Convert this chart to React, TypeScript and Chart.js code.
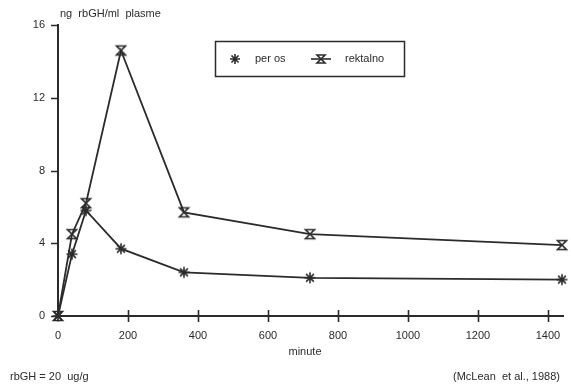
import React, { useEffect, useRef } from "react";
import { Chart, registerables } from "chart.js";
Chart.register(...registerables);

const times = [0, 40, 80, 180, 360, 720, 1440];
const perOs = [0, 3.4, 5.8, 3.7, 2.4, 2.1, 2.0];
const rektalno = [0, 4.5, 6.2, 14.6, 5.7, 4.5, 3.9];
const xTicks = [0, 200, 400, 600, 800, 1000, 1200, 1400];
const yTicks = [0, 4, 8, 12, 16];
const seriesNames = ["per os", "rektalno"];
const yTitle = "ng  rbGH/ml  plasme";
const xTitle = "minute";
const noteLeft = "rbGH = 20  ug/g";
const noteRight = "(McLean  et al., 1988)";

const INK = "#2b2b2b";
const FAMILY = "'Liberation Sans', Arial, sans-serif";
const FONT = "11px " + FAMILY;

function drawStar(ctx: CanvasRenderingContext2D, cx: number, cy: number, r: number) {
  ctx.beginPath();
  for (let i = 0; i < 4; i++) {
    const a = (i * Math.PI) / 4;
    ctx.moveTo(cx - r * Math.cos(a), cy - r * Math.sin(a));
    ctx.lineTo(cx + r * Math.cos(a), cy + r * Math.sin(a));
  }
  ctx.stroke();
}
function drawHourglass(ctx: CanvasRenderingContext2D, cx: number, cy: number, r: number) {
  ctx.beginPath();
  ctx.moveTo(cx - r, cy - r);
  ctx.lineTo(cx + r, cy - r);
  ctx.lineTo(cx - r, cy + r);
  ctx.lineTo(cx + r, cy + r);
  ctx.closePath();
  ctx.stroke();
}
function makeMarker(kind: "star" | "hour"): HTMLCanvasElement {
  const c = document.createElement("canvas");
  c.width = 14;
  c.height = 14;
  const ctx = c.getContext("2d")!;
  ctx.strokeStyle = INK;
  ctx.lineWidth = 1.6;
  if (kind === "star") drawStar(ctx, 7, 7, 5.5);
  else drawHourglass(ctx, 7, 7, 4.5);
  return c;
}

export default function App() {
  const ref = useRef<HTMLCanvasElement>(null);
  useEffect(() => {
    document.body.style.margin = "0";
    const starImg = makeMarker("star");
    const hourImg = makeMarker("hour");
    const deco = {
      id: "deco",
      afterDraw(chart: any) {
        const ctx = chart.ctx as CanvasRenderingContext2D;
        const xs = chart.scales.x;
        const ys = chart.scales.y;
        const area = chart.chartArea;
        ctx.save();
        ctx.strokeStyle = INK;
        ctx.fillStyle = INK;
        ctx.lineWidth = 1.6;
        ctx.beginPath();
        for (const v of xTicks) {
          if (v === 0) continue;
          const px = Math.round(xs.getPixelForValue(v)) + 0.5;
          ctx.moveTo(px, area.bottom - 6);
          ctx.lineTo(px, area.bottom + 6);
        }
        for (const v of yTicks) {
          const py = Math.round(ys.getPixelForValue(v)) + 0.5;
          ctx.moveTo(area.left - 7, py);
          ctx.lineTo(area.left, py);
        }
        ctx.stroke();
        ctx.font = FONT;
        ctx.textBaseline = "middle";
        ctx.textAlign = "left";
        ctx.fillText(yTitle, 60, 14);
        ctx.textAlign = "center";
        ctx.fillText(xTitle, 305, 352);
        ctx.textAlign = "left";
        ctx.fillText(noteLeft, 10, 377);
        ctx.textAlign = "right";
        ctx.fillText(noteRight, 560, 377);
        ctx.lineWidth = 1.5;
        ctx.strokeRect(215.5, 41.5, 189, 35);
        ctx.lineWidth = 1.6;
        drawStar(ctx, 235, 59, 5);
        ctx.beginPath();
        ctx.moveTo(311, 59);
        ctx.lineTo(331, 59);
        ctx.stroke();
        drawHourglass(ctx, 321, 59, 4);
        ctx.textAlign = "left";
        ctx.fillText(seriesNames[0], 255, 59);
        ctx.fillText(seriesNames[1], 345, 59);
        ctx.restore();
      },
    };
    const chart = new Chart(ref.current!, {
      type: "line",
      data: {
        datasets: [
          {
            label: seriesNames[0],
            data: times.map((t, i) => ({ x: t, y: perOs[i] })),
            borderColor: INK,
            borderWidth: 1.8,
            pointStyle: starImg as any,
            tension: 0,
            clip: false,
          },
          {
            label: seriesNames[1],
            data: times.map((t, i) => ({ x: t, y: rektalno[i] })),
            borderColor: INK,
            borderWidth: 1.8,
            pointStyle: hourImg as any,
            tension: 0,
            clip: false,
          },
        ],
      },
      options: {
        animation: false,
        responsive: false,
        layout: { padding: { top: 25, right: 8, left: 0, bottom: 0 } },
        plugins: { legend: { display: false }, tooltip: { enabled: false } },
        scales: {
          x: {
            type: "linear",
            min: 0,
            max: 1443,
            afterBuildTicks: (s: any) => {
              s.ticks = xTicks.map((v) => ({ value: v }));
            },
            afterFit: (s: any) => {
              s.height = 73;
            },
            grid: { display: false },
            border: { display: true, color: INK, width: 2 },
            ticks: {
              color: INK,
              font: { family: FAMILY, size: 11 },
              padding: 5,
              maxRotation: 0,
              callback: (v: any) => String(v),
            },
          },
          y: {
            min: 0,
            max: 16,
            afterBuildTicks: (s: any) => {
              s.ticks = yTicks.map((v) => ({ value: v }));
            },
            afterFit: (s: any) => {
              s.width = 58;
            },
            grid: { display: false },
            border: { display: true, color: INK, width: 2 },
            ticks: { color: INK, font: { family: FAMILY, size: 11 }, padding: 5 },
          },
        },
      },
      plugins: [deco],
    } as any);
    return () => chart.destroy();
  }, []);
  return <canvas ref={ref} width={571} height={389} style={{ display: "block" }} />;
}
